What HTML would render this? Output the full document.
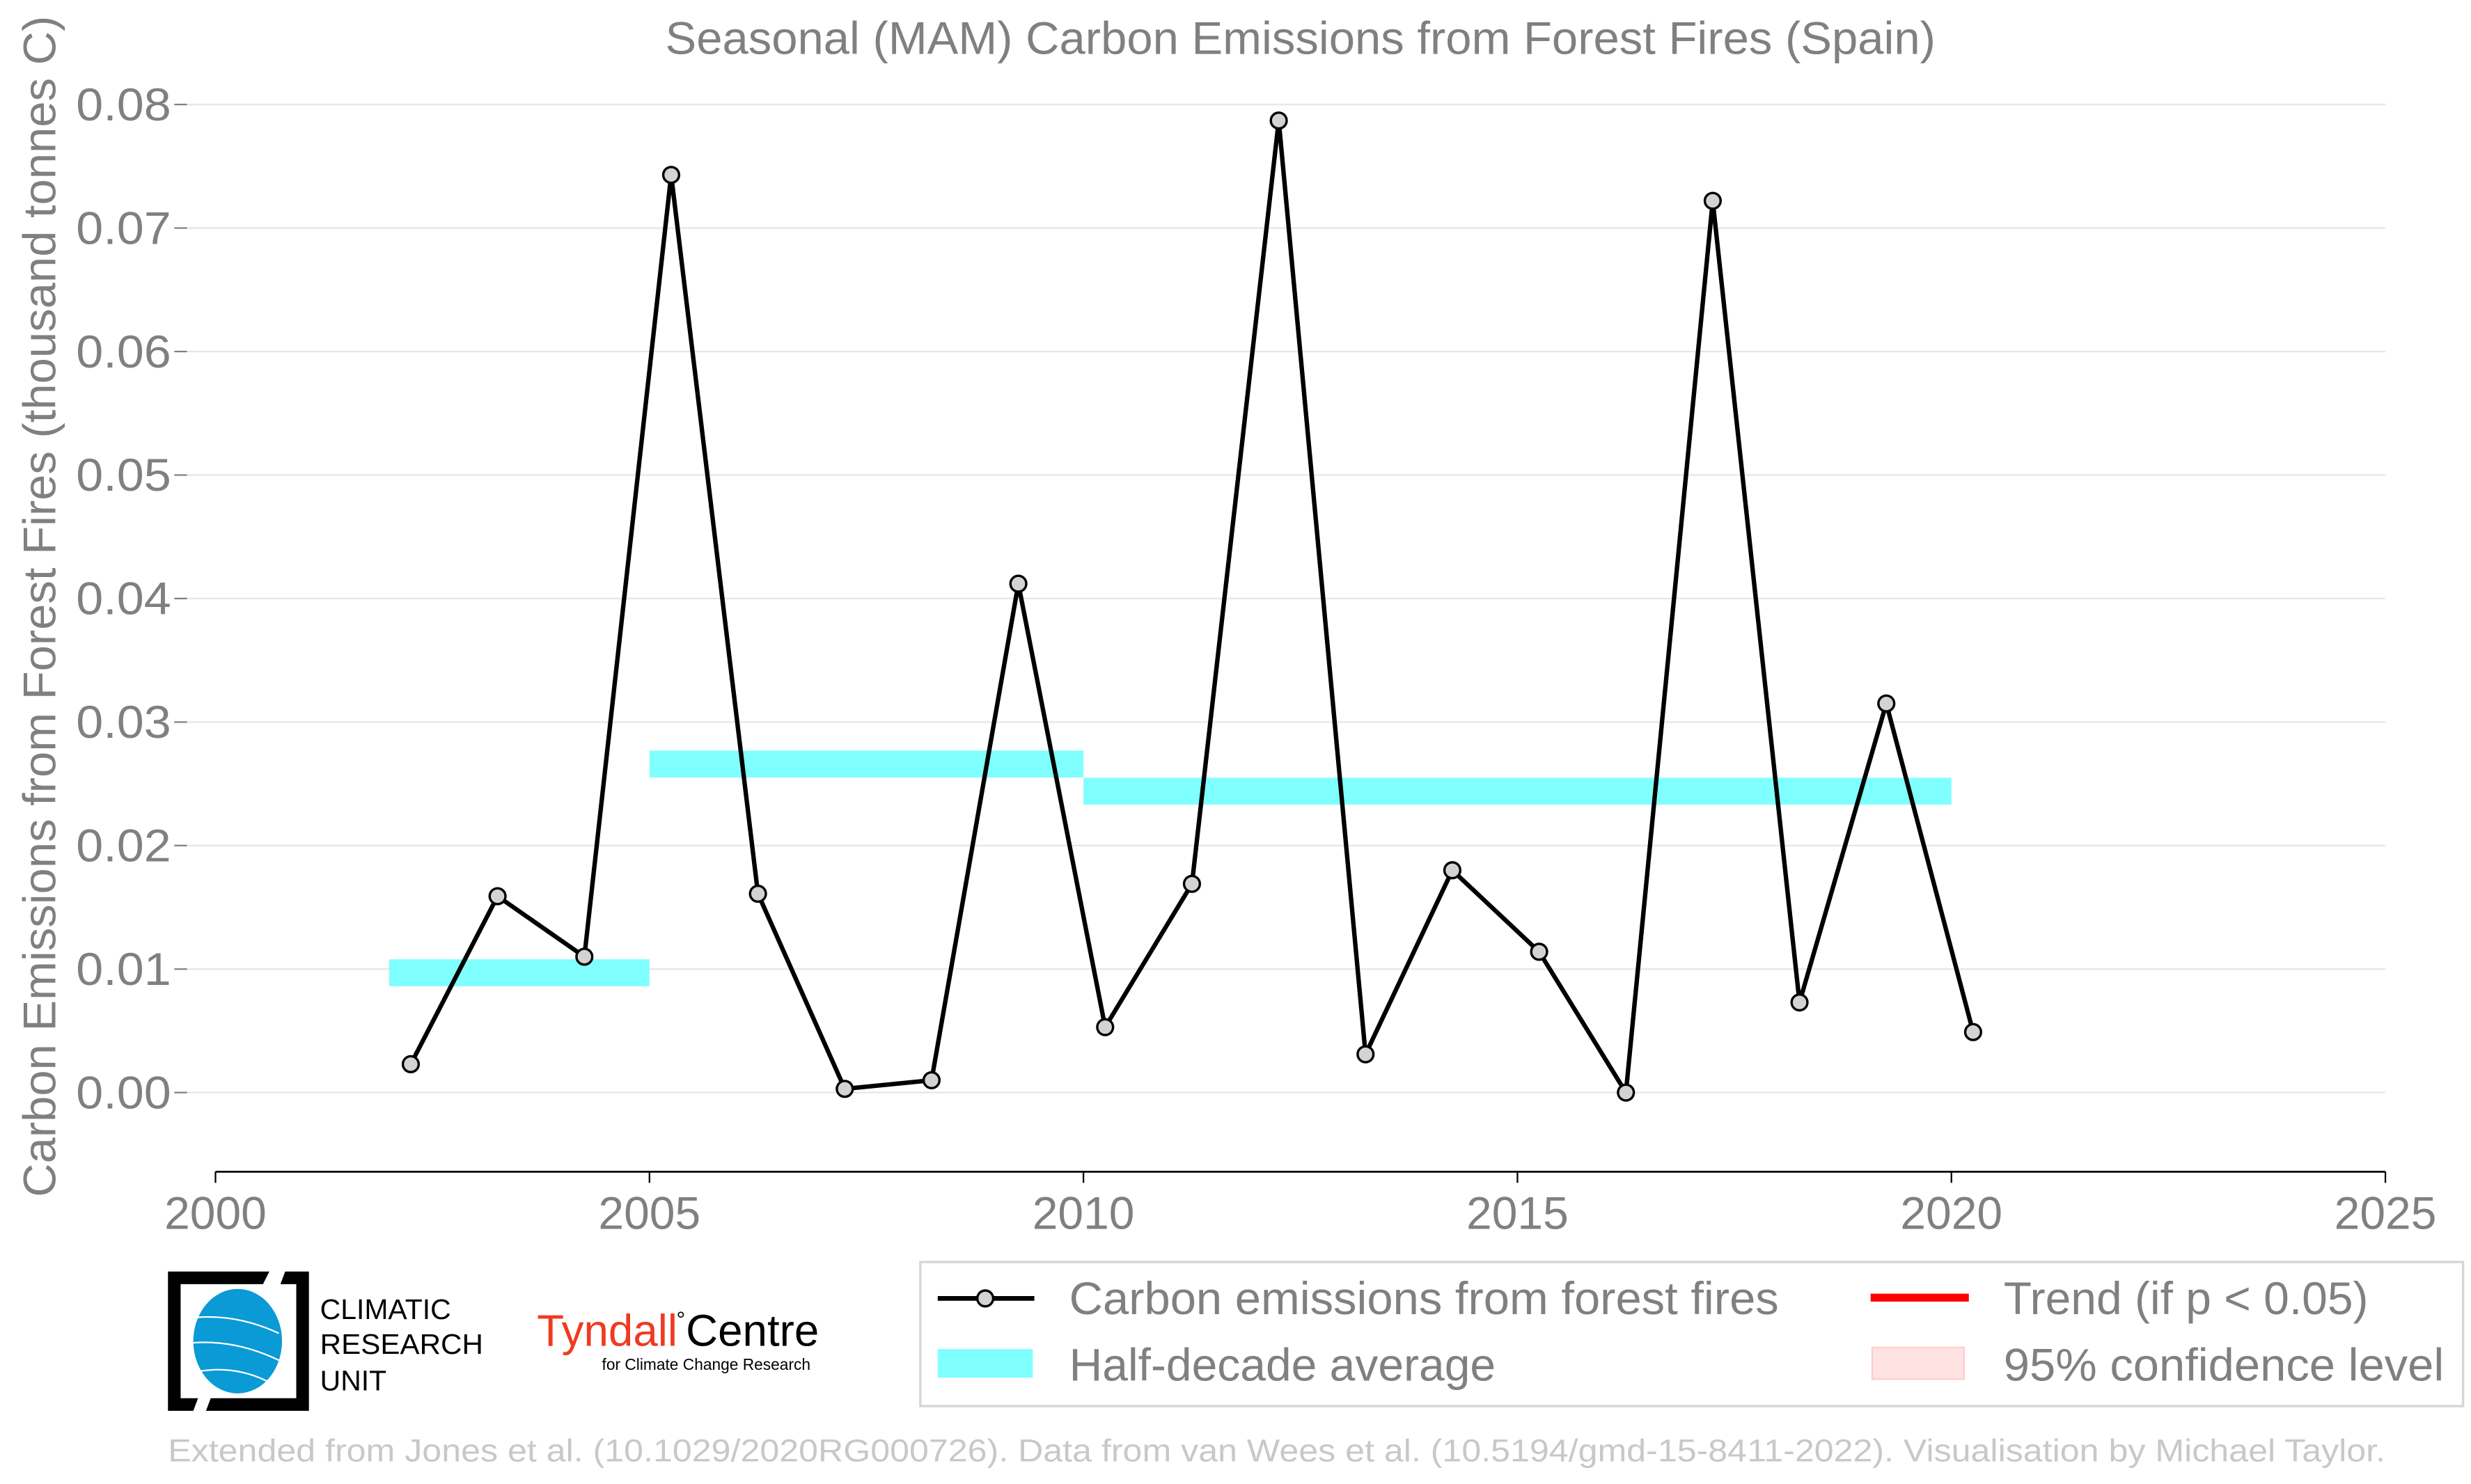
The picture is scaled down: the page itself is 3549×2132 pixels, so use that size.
<!DOCTYPE html>
<html><head><meta charset="utf-8"><style>html,body{margin:0;padding:0;background:#fff}svg{display:block}text{font-family:"Liberation Sans",sans-serif}</style></head>
<body>
<svg id="chart" width="3549" height="2132" viewBox="0 0 1560 937.2" xmlns="http://www.w3.org/2000/svg">
<text x="821" y="34" font-size="29" fill="#808080" text-anchor="middle" textLength="802" lengthAdjust="spacingAndGlyphs">Seasonal (MAM) Carbon Emissions from Forest Fires (Spain)</text>
<g id="grid"></g>
<g id="yticks"></g>
<g id="xticks"></g>
<text transform="translate(35,383) rotate(-90)" font-size="29" fill="#808080" text-anchor="middle" textLength="746" lengthAdjust="spacingAndGlyphs">Carbon Emissions from Forest Fires (thousand tonnes C)</text>
<g id="bars"></g>
<g id="series"></g>
<g>
<path d="M106,803 H170 L166,811 H114 V883 H125 L122,891 H106 Z" fill="#000"/>
<path d="M180,803 H195 V891 H130 L133,883 H187 V811 H177 Z" fill="#000"/>
<ellipse cx="150" cy="847" rx="28" ry="33" fill="#0a9ad6"/>
<path d="M124,832 Q150,830 176,842 M122,848 Q150,846 178,860 M126,866 Q150,862 172,874" stroke="#fff" stroke-width="1" fill="none"/>
<text x="202" y="833" font-size="18" fill="#000">CLIMATIC</text>
<text x="202" y="855" font-size="18" fill="#000" textLength="103" lengthAdjust="spacingAndGlyphs">RESEARCH</text>
<text x="202" y="878" font-size="18" fill="#000">UNIT</text>
</g>
<g>
<text x="339" y="850" font-size="28" fill="#f03a20">Tyndall</text><text x="427" y="838" font-size="14" fill="#000">°</text><text x="433" y="850" font-size="28" fill="#000">Centre</text>
<text x="380" y="865" font-size="10" fill="#000">for Climate Change Research</text>
</g>
<g>
<rect x="581" y="797" width="974" height="91" fill="#fff" stroke="#d6d6d6" stroke-width="1.5"/>
<line x1="592" y1="820" x2="653" y2="820" stroke="#000" stroke-width="3"/>
<circle cx="622" cy="820" r="5" fill="#d3d3d3" stroke="#000" stroke-width="1.5"/>
<text x="675" y="830" font-size="29" fill="#808080" textLength="448" lengthAdjust="spacingAndGlyphs">Carbon emissions from forest fires</text>
<rect x="592" y="852" width="60" height="18" fill="#80ffff"/>
<text x="675" y="872" font-size="29" fill="#808080">Half-decade average</text>
<rect x="1181" y="817" width="62" height="5" fill="#ff0000"/>
<text x="1265" y="830" font-size="29" fill="#808080">Trend (if p &lt; 0.05)</text>
<rect x="1182" y="851" width="58" height="20" fill="#ffe3e3" stroke="#ffcccc" stroke-width="1"/>
<text x="1265" y="872" font-size="29" fill="#808080" textLength="278" lengthAdjust="spacingAndGlyphs">95% confidence level</text>
</g>
<text x="106" y="923" font-size="20" fill="#c8c8c8" textLength="1400" lengthAdjust="spacingAndGlyphs">Extended from Jones et al. (10.1029/2020RG000726). Data from van Wees et al. (10.5194/gmd-15-8411-2022). Visualisation by Michael Taylor.</text>
</svg>
<script>
const years = [2002,2003,2004,2005,2006,2007,2008,2009,2010,2011,2012,2013,2014,2015,2016,2017,2018,2019,2020];
const emissions = [0.0023,0.0159,0.0110,0.0743,0.0161,0.0003,0.0010,0.0412,0.0053,0.0169,0.0787,0.0031,0.0180,0.0114,0.0000,0.0722,0.0073,0.0315,0.0049];
const avgStart = [2002,2005,2010];
const avgEnd = [2005,2010,2020];
const avgValue = [0.0097,0.0266,0.0244];
const yTickValues = [0,0.01,0.02,0.03,0.04,0.05,0.06,0.07,0.08];
const xTickValues = [2000,2005,2010,2015,2020,2025];
const NS='http://www.w3.org/2000/svg';
function X(v){return 136+(v-2000)*(1506-136)/25;}
function Y(v){return 690-v*(690-66)/0.08;}
function mk(tag,attrs,parent){const e=document.createElementNS(NS,tag);for(const k in attrs)e.setAttribute(k,attrs[k]);parent.appendChild(e);return e;}
const grid=document.getElementById('grid'),yt=document.getElementById('yticks'),xt=document.getElementById('xticks');
yTickValues.forEach(v=>{
  const g=mk('line',{x1:118,x2:1506,y1:Y(v),y2:Y(v),stroke:'#e6e6e6','stroke-width':1},grid);
  
  
  const t=mk('text',{x:108,y:Y(v)+10,'font-size':29,fill:'#808080','text-anchor':'end',textLength:60,lengthAdjust:'spacingAndGlyphs'},yt);
  t.textContent=v.toFixed(2);
  
  
  mk('line',{x1:110,x2:118,y1:Y(v),y2:Y(v),stroke:'#808080','stroke-width':1},yt);
});
mk('line',{x1:136,x2:1506,y1:740,y2:740,stroke:'#000','stroke-width':1.2},xt);
xTickValues.forEach(v=>{
  mk('line',{x1:X(v),x2:X(v),y1:740,y2:747,stroke:'#000','stroke-width':1},xt);
  const t=mk('text',{x:X(v),y:776,'font-size':29,fill:'#808080','text-anchor':'middle'},xt);
  t.textContent=v;
  
  
});
const bars=document.getElementById('bars');
avgValue.forEach((v,i)=>{
  const r=mk('rect',{x:X(avgStart[i]),width:X(avgEnd[i])-X(avgStart[i]),y:Y(v)-8.5,height:17,fill:'#80ffff'},bars);
  
  
});
const s=document.getElementById('series');
const pts=years.map((y,i)=>X(y+0.25)+','+Y(emissions[i])).join(' ');
mk('polyline',{points:pts,fill:'none',stroke:'#000','stroke-width':2.8,'stroke-linejoin':'miter'},s);
years.forEach((y,i)=>{
  const c=mk('circle',{cx:X(y+0.25),cy:Y(emissions[i]),r:5,fill:'#d3d3d3',stroke:'#000','stroke-width':1.5},s);
  
  
});
</script>
</body></html>
